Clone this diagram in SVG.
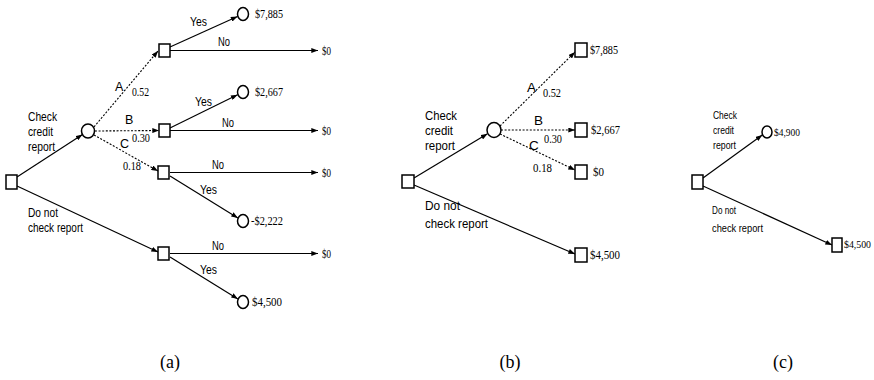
<svg xmlns="http://www.w3.org/2000/svg" width="874" height="380" viewBox="0 0 874 380">
<defs>
<marker id="ah" viewBox="0 0 8 6" refX="8" refY="3" markerWidth="7" markerHeight="5" markerUnits="userSpaceOnUse" orient="auto">
<path d="M0,0 L8,3 L0,6 Z" fill="#000"/>
</marker>
</defs>
<style>
.sq{fill:#fff;stroke:#000;stroke-width:1.5}
.ci{fill:#fff;stroke:#000;stroke-width:1.5}
.ln{fill:none;stroke:#000;stroke-width:1.2;marker-end:url(#ah)}
.dt{fill:none;stroke:#000;stroke-width:1.1;stroke-dasharray:2,1.6;marker-end:url(#ah)}
.sa{font-family:"Liberation Sans",Arial,sans-serif;font-size:12.5px;fill:#000}
.sb{font-family:"Liberation Sans",Arial,sans-serif;font-size:13.5px;fill:#000}
.sc{font-family:"Liberation Sans",Arial,sans-serif;font-size:11px;fill:#000}
.va{font-family:"Liberation Serif","Times New Roman",serif;font-size:12.5px;fill:#000}
.vc{font-family:"Liberation Serif","Times New Roman",serif;font-size:11px;fill:#000}
.cap{font-family:"Liberation Serif","Times New Roman",serif;font-size:18px;fill:#000;text-anchor:middle}
</style>
<rect width="874" height="380" fill="#fff"/>

<g id="connectors">
<!-- panel a -->
<line class="ln" x1="17" y1="177" x2="82.5" y2="134.5"/>
<line class="ln" x1="17" y1="186" x2="158" y2="252"/>
<line class="dt" x1="94" y1="127" x2="158" y2="51"/>
<line class="dt" x1="95" y1="131" x2="159" y2="130.5"/>
<line class="dt" x1="94" y1="135" x2="158" y2="171"/>
<line class="ln" x1="170" y1="47" x2="237.5" y2="16.5"/>
<line class="ln" x1="170" y1="50.5" x2="318" y2="50.5"/>
<line class="ln" x1="170" y1="128" x2="237.6" y2="94.7"/>
<line class="ln" x1="170" y1="130.5" x2="318" y2="130.5"/>
<line class="ln" x1="170" y1="172.5" x2="318" y2="172.5"/>
<line class="ln" x1="170" y1="176" x2="237.9" y2="217.9"/>
<line class="ln" x1="170" y1="253.5" x2="318" y2="253.5"/>
<line class="ln" x1="170" y1="257" x2="237.9" y2="298.9"/>
<!-- panel b -->
<line class="ln" x1="414" y1="178" x2="487.5" y2="133.8"/>
<line class="ln" x1="414" y1="185" x2="575" y2="254"/>
<line class="dt" x1="500" y1="126" x2="575" y2="52"/>
<line class="dt" x1="501" y1="130" x2="575" y2="130"/>
<line class="dt" x1="500" y1="134" x2="575" y2="170"/>
<!-- panel c -->
<line class="ln" x1="703" y1="178" x2="762.3" y2="135"/>
<line class="ln" x1="703" y1="186" x2="832" y2="245"/>
</g>

<!-- panel a nodes -->
<g id="a-root"><rect class="sq" x="6" y="175" width="11" height="14"/></g>
<g id="a-chance"><ellipse class="ci" cx="88" cy="131" rx="6.5" ry="7"/>
<text class="sa" x="28" y="121" textLength="29" lengthAdjust="spacingAndGlyphs">Check</text>
<text class="sa" x="28" y="136" textLength="25" lengthAdjust="spacingAndGlyphs">credit</text>
<text class="sa" x="28" y="151" textLength="27" lengthAdjust="spacingAndGlyphs">report</text>
<text class="sa" x="28" y="217" textLength="30" lengthAdjust="spacingAndGlyphs">Do not</text>
<text class="sa" x="28" y="232" textLength="55" lengthAdjust="spacingAndGlyphs">check report</text>
<text class="sa" x="115" y="91">A</text>
<text class="va" x="132" y="96" textLength="17" lengthAdjust="spacingAndGlyphs">0.52</text>
<text class="sa" x="125" y="124">B</text>
<text class="va" x="132" y="142" textLength="18" lengthAdjust="spacingAndGlyphs">0.30</text>
<text class="sa" x="120" y="148">C</text>
<text class="va" x="123" y="170" textLength="18" lengthAdjust="spacingAndGlyphs">0.18</text>
</g>
<g id="a-dA"><rect class="sq" x="159" y="44" width="11" height="13"/>
<text class="sa" x="190" y="26" textLength="17" lengthAdjust="spacingAndGlyphs">Yes</text>
<text class="sa" x="218" y="46" textLength="12" lengthAdjust="spacingAndGlyphs">No</text>
<text class="va" x="322" y="55" textLength="9" lengthAdjust="spacingAndGlyphs">$0</text></g>
<g id="a-tA"><ellipse class="ci" cx="243" cy="14" rx="5.5" ry="6.5"/>
<text class="va" x="255" y="18" textLength="28" lengthAdjust="spacingAndGlyphs">$7,885</text></g>
<g id="a-dB"><rect class="sq" x="159" y="124" width="11" height="13"/>
<text class="sa" x="195" y="106" textLength="17" lengthAdjust="spacingAndGlyphs">Yes</text>
<text class="sa" x="222" y="127" textLength="12" lengthAdjust="spacingAndGlyphs">No</text>
<text class="va" x="322" y="135" textLength="9" lengthAdjust="spacingAndGlyphs">$0</text></g>
<g id="a-tB"><ellipse class="ci" cx="243" cy="92" rx="5.5" ry="6.5"/>
<text class="va" x="255" y="96" textLength="28" lengthAdjust="spacingAndGlyphs">$2,667</text></g>
<g id="a-dC"><rect class="sq" x="158" y="166" width="11" height="13"/>
<text class="sa" x="212" y="169" textLength="12" lengthAdjust="spacingAndGlyphs">No</text>
<text class="sa" x="200" y="194" textLength="17" lengthAdjust="spacingAndGlyphs">Yes</text>
<text class="va" x="322" y="177" textLength="9" lengthAdjust="spacingAndGlyphs">$0</text></g>
<g id="a-tC"><ellipse class="ci" cx="243" cy="221" rx="5.5" ry="6.5"/>
<text class="va" x="251" y="225" textLength="32" lengthAdjust="spacingAndGlyphs">-$2,222</text></g>
<g id="a-dN"><rect class="sq" x="158" y="247" width="11" height="13"/>
<text class="sa" x="212" y="250" textLength="12" lengthAdjust="spacingAndGlyphs">No</text>
<text class="sa" x="200" y="274" textLength="17" lengthAdjust="spacingAndGlyphs">Yes</text>
<text class="va" x="322" y="258" textLength="9" lengthAdjust="spacingAndGlyphs">$0</text></g>
<g id="a-tN"><ellipse class="ci" cx="243" cy="302" rx="5.5" ry="6.5"/>
<text class="va" x="252" y="306" textLength="30" lengthAdjust="spacingAndGlyphs">$4,500</text></g>

<!-- panel b nodes -->
<g id="b-root"><rect class="sq" x="402" y="175" width="12" height="13"/>
<text class="sb" x="425" y="120" textLength="32" lengthAdjust="spacingAndGlyphs">Check</text>
<text class="sb" x="425" y="135" textLength="28" lengthAdjust="spacingAndGlyphs">credit</text>
<text class="sb" x="425" y="150" textLength="30" lengthAdjust="spacingAndGlyphs">report</text>
<text class="sb" x="425" y="210" textLength="35" lengthAdjust="spacingAndGlyphs">Do not</text>
<text class="sb" x="425" y="228" textLength="63" lengthAdjust="spacingAndGlyphs">check report</text></g>
<g id="b-chance"><ellipse class="ci" cx="494" cy="130" rx="7" ry="7.5"/>
<text class="sb" x="527" y="92">A</text>
<text class="va" x="543" y="97" textLength="18" lengthAdjust="spacingAndGlyphs">0.52</text>
<text class="sb" x="534" y="125">B</text>
<text class="va" x="544" y="143" textLength="18" lengthAdjust="spacingAndGlyphs">0.30</text>
<text class="sb" x="529" y="150">C</text>
<text class="va" x="533" y="172" textLength="19" lengthAdjust="spacingAndGlyphs">0.18</text></g>
<g id="b-tA"><rect class="sq" x="575" y="43" width="12" height="14"/>
<text class="va" x="590" y="54" textLength="28" lengthAdjust="spacingAndGlyphs">$7,885</text></g>
<g id="b-tB"><rect class="sq" x="575" y="123" width="12" height="14"/>
<text class="va" x="591" y="134" textLength="29" lengthAdjust="spacingAndGlyphs">$2,667</text></g>
<g id="b-tC"><rect class="sq" x="575" y="165" width="12" height="14"/>
<text class="va" x="593" y="176" textLength="11" lengthAdjust="spacingAndGlyphs">$0</text></g>
<g id="b-tN"><rect class="sq" x="575" y="248" width="12" height="14"/>
<text class="va" x="590" y="259" textLength="30" lengthAdjust="spacingAndGlyphs">$4,500</text></g>

<!-- panel c nodes -->
<g id="c-root"><rect class="sq" x="692" y="175" width="11" height="14"/>
<text class="sc" x="713" y="119" textLength="24" lengthAdjust="spacingAndGlyphs">Check</text>
<text class="sc" x="713" y="134" textLength="21" lengthAdjust="spacingAndGlyphs">credit</text>
<text class="sc" x="713" y="149" textLength="23" lengthAdjust="spacingAndGlyphs">report</text>
<text class="sc" x="712" y="214" textLength="24" lengthAdjust="spacingAndGlyphs">Do not</text>
<text class="sc" x="712" y="232" textLength="51" lengthAdjust="spacingAndGlyphs">check report</text></g>
<g id="c-check"><ellipse class="ci" cx="767" cy="132" rx="5" ry="6"/>
<text class="vc" x="774" y="136" textLength="26" lengthAdjust="spacingAndGlyphs">$4,900</text></g>
<g id="c-no"><rect class="sq" x="832" y="238" width="10" height="14"/>
<text class="vc" x="844" y="248" textLength="27" lengthAdjust="spacingAndGlyphs">$4,500</text></g>

<g id="captions">
<text class="cap" x="170" y="368">(a)</text>
<text class="cap" x="510" y="368">(b)</text>
<text class="cap" x="783" y="368">(c)</text>
</g>
</svg>
